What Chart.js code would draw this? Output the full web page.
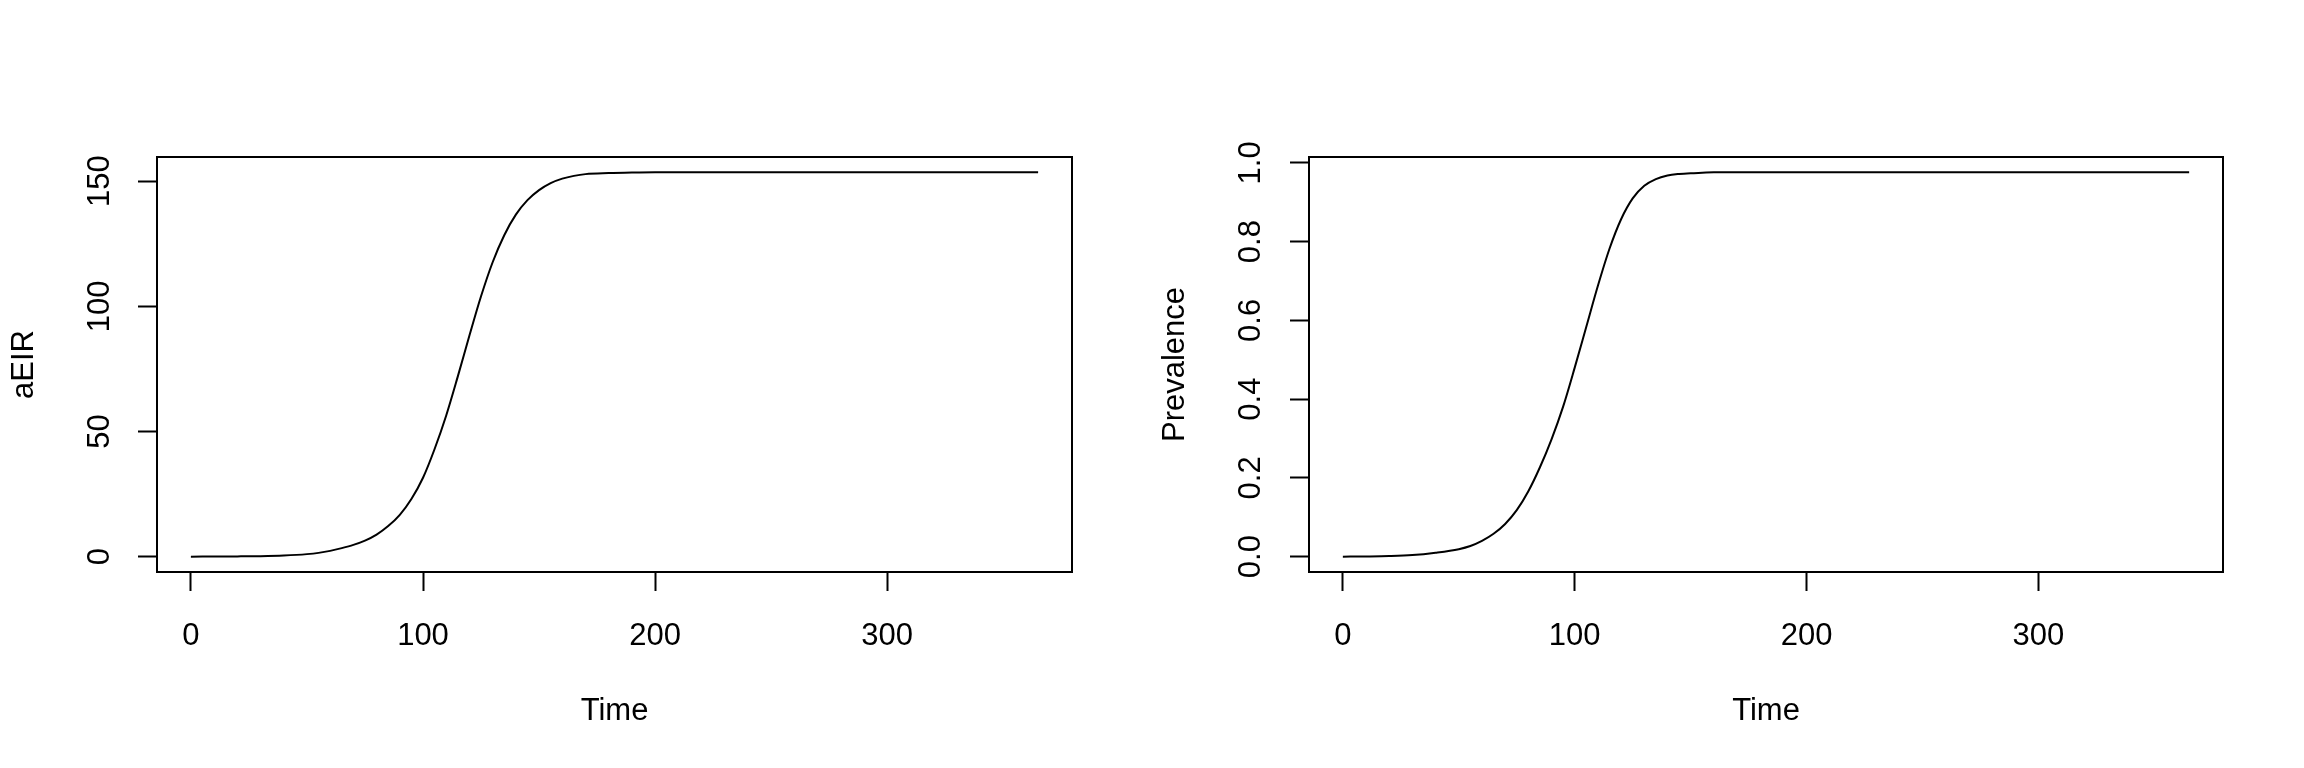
<!DOCTYPE html>
<html>
<head>
<meta charset="utf-8">
<title>aEIR and Prevalence over time</title>
<script src="https://cdn.jsdelivr.net/npm/chart.js@4.4.1/dist/chart.umd.min.js"></script>
<style>
  html, body { margin: 0; padding: 0; background: #fff; }
  #wrap { position: relative; width: 2304px; height: 768px; }
  canvas { position: absolute; top: 0; }
  #aeirChart { left: 0; }
  #prevalenceChart { left: 1152px; }
</style>
</head>
<body>
<div id="wrap">
  <canvas id="aeirChart" width="1152" height="768"></canvas>
  <canvas id="prevalenceChart" width="1152" height="768"></canvas>
</div>
<script>
// values
const time = [0, 10, 20, 30, 40, 50, 55, 60, 65, 70, 75, 80, 85, 90, 95, 100, 105, 110, 115, 120,
              125, 130, 135, 140, 145, 150, 155, 160, 165, 170, 180, 190, 200, 250, 300, 365];
const aeir = [0, 0.05, 0.1, 0.2, 0.45, 1.0, 1.5, 2.3, 3.4, 4.7, 6.4, 8.8, 12.2, 16.7, 23.0, 31.5, 43.0, 56.4, 72.0, 88.3,
              104.0, 117.6, 128.4, 136.6, 142.4, 146.4, 149.2, 151.0, 152.1, 152.8, 153.2, 153.4, 153.5, 153.5, 153.5, 153.5];
const prevalence = [0, 0.0005, 0.0015, 0.004, 0.010, 0.019, 0.027, 0.040, 0.058, 0.083, 0.118, 0.166, 0.227, 0.298, 0.381, 0.480, 0.584, 0.688, 0.782, 0.857,
                    0.910, 0.942, 0.959, 0.968, 0.972, 0.974, 0.975, 0.976, 0.976, 0.976, 0.976, 0.976, 0.976, 0.976, 0.976, 0.976];
const timeTicks = [0, 100, 200, 300];
const aeirTicks = [0, 50, 100, 150];
const prevalenceTicks = [0, 0.2, 0.4, 0.6, 0.8, 1.0];

const FONT = "'Liberation Sans', Arial, Helvetica, sans-serif";

// frame around the plot region, like R's box()
const boxPlugin = {
    id: 'rbox',
    afterDraw(chart) {
        const a = chart.chartArea;
        const ctx = chart.ctx;
        ctx.save();
        ctx.strokeStyle = '#000';
        ctx.lineWidth = 2;
        ctx.strokeRect(a.left, a.top, a.right - a.left, a.bottom - a.top);
        ctx.restore();
    }
};

// R pads the data range by 4% on each side
function rRange(values) {
    const lo = Math.min(...values);
    const hi = Math.max(...values);
    const pad = (hi - lo) * 0.04;
    return [lo - pad, hi + pad];
}

function makePanel(id, values, yTicks, yTitle, yFmt, yPad, titlePad, rightPad) {
    const ctx = document.getElementById(id).getContext('2d');
    const xr = rRange(time);
    const yr = rRange(values);
    new Chart(ctx, {
        type: 'line',
        data: {
            datasets: [{
                data: time.map((t, i) => ({x: t, y: values[i]})),
                borderColor: '#000',
                borderWidth: 2,
                pointRadius: 0,
                fill: false,
                cubicInterpolationMode: 'monotone'
            }]
        },
        options: {
            responsive: false,
            animation: false,
            events: [],
            layout: { padding: { left: 0, top: 157, right: rightPad, bottom: 0 } },
            plugins: { legend: { display: false }, tooltip: { enabled: false } },
            scales: {
                x: {
                    type: 'linear',
                    min: xr[0],
                    max: xr[1],
                    afterBuildTicks: s => { s.ticks = timeTicks.map(v => ({value: v})); },
                    afterFit: s => { s.height = 196; },
                    border: { display: false },
                    grid: { drawOnChartArea: false, drawTicks: true, tickLength: 19, tickWidth: 2, tickColor: '#000' },
                    ticks: { autoSkip: false, maxRotation: 0, padding: 27, color: '#000',
                             font: { family: FONT, size: 31 } },
                    title: { display: true, text: 'Time', color: '#000', padding: { top: 0, bottom: 38 },
                             font: { family: FONT, size: 31 } }
                },
                y: {
                    type: 'linear',
                    min: yr[0],
                    max: yr[1],
                    afterBuildTicks: s => { s.ticks = yTicks.map(v => ({value: v})); },
                    afterFit: s => { s.width = 157; },
                    border: { display: false },
                    grid: { drawOnChartArea: false, drawTicks: true, tickLength: 19, tickWidth: 2, tickColor: '#000' },
                    ticks: { autoSkip: false, minRotation: 90, maxRotation: 90, crossAlign: 'center',
                             padding: yPad, color: '#000', callback: yFmt,
                             font: { family: FONT, size: 31 } },
                    title: { display: true, text: yTitle, color: '#000', padding: { top: titlePad, bottom: 0 },
                             font: { family: FONT, size: 31 } }
                }
            }
        },
        plugins: [boxPlugin]
    });
}

makePanel('aeirChart', aeir, aeirTicks, 'aEIR', v => String(v), 12, 6, 80);
makePanel('prevalenceChart', prevalence, prevalenceTicks, 'Prevalence', v => v.toFixed(1), 17, 5, 81);
</script>
</body>
</html>
